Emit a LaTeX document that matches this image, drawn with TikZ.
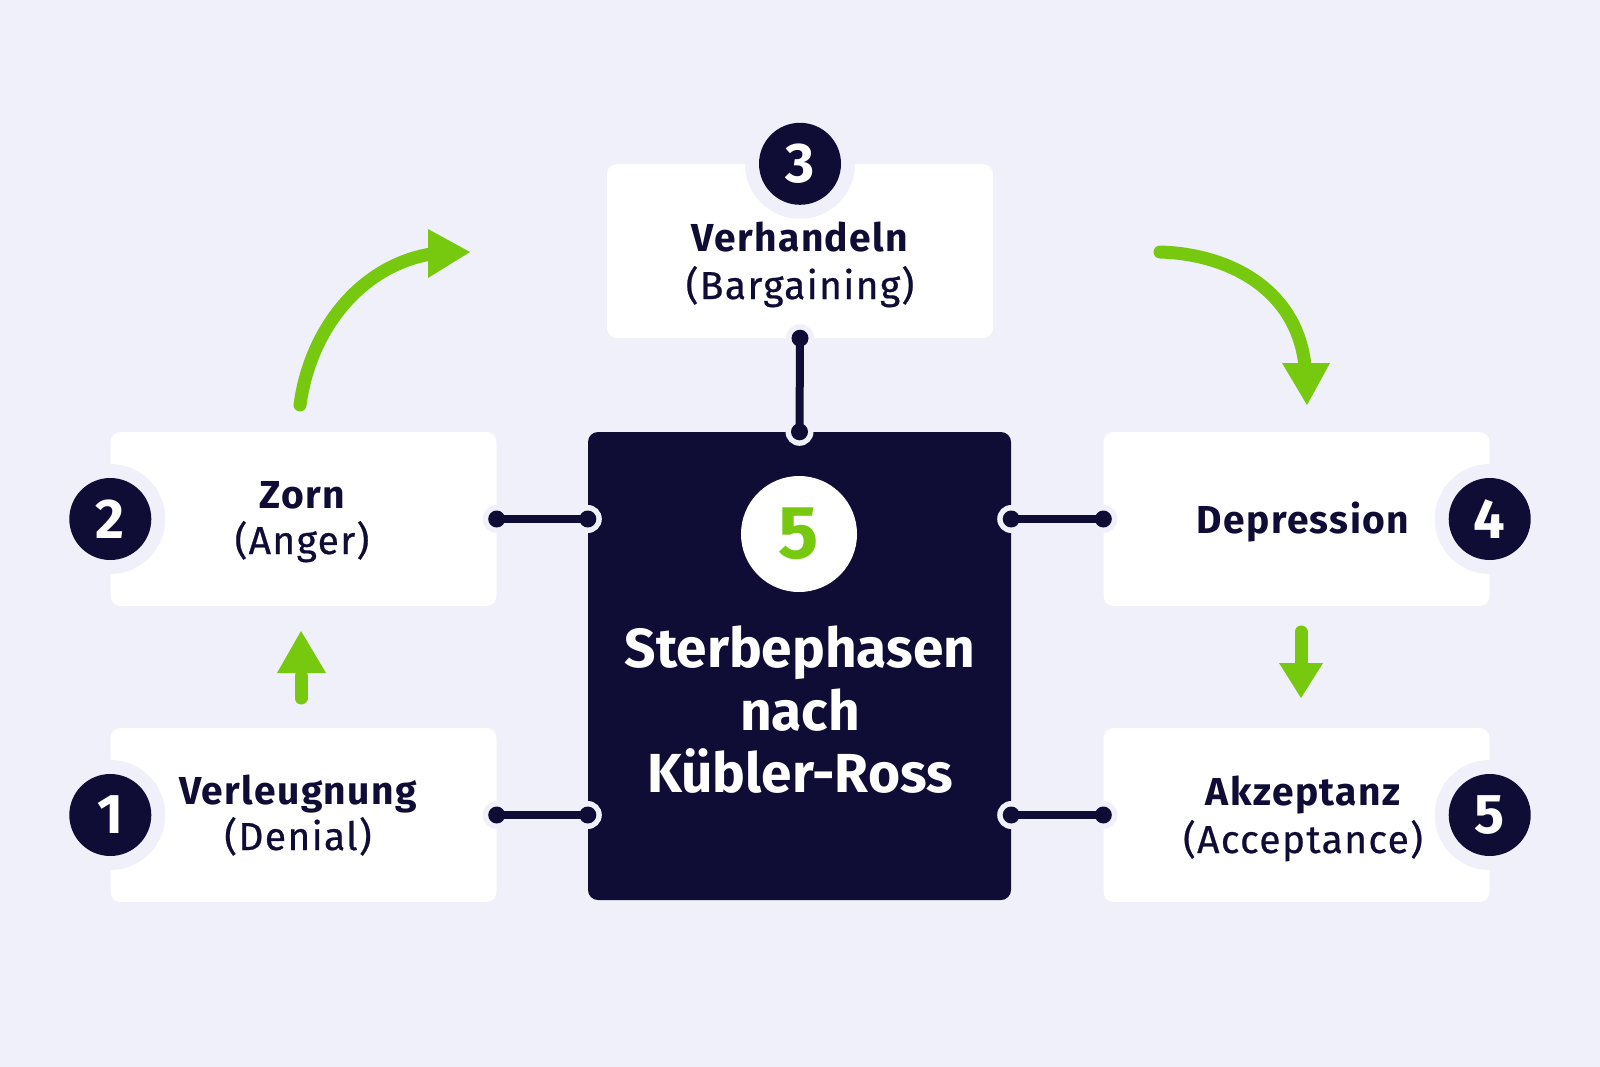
\documentclass[tikz,border=0pt]{standalone}
\usepackage{fontspec}
\setmainfont{Fira Sans}
\newfontfamily\lbl{Fira Sans}[LetterSpace=3.5]
\newfontfamily\lblmed{Fira Sans}[LetterSpace=3.5, FakeBold=0.6]
\usetikzlibrary{calc}
\definecolor{bgc}{RGB}{239,240,249}
\definecolor{navy}{RGB}{15,13,53}
\definecolor{lime}{RGB}{118,201,14}
\begin{document}
\begin{tikzpicture}[x=1pt,y=-1pt,
  box/.style={fill=white, rounded corners=10pt, minimum width=386pt, minimum height=174pt, inner sep=0pt},
  darkbox/.style={fill=navy, rounded corners=10pt, minimum width=423pt, minimum height=468pt, inner sep=0pt},
  numc/.style={circle, fill=navy, text=white, minimum size=82pt, inner sep=0pt, font=\fontsize{56}{56}\selectfont\bfseries},
  ttl/.style={text=navy, font=\fontsize{39}{47}\selectfont\lbl\bfseries, anchor=base, inner sep=0pt},
  sub/.style={text=navy, font=\fontsize{39}{47}\selectfont\lblmed, anchor=base, inner sep=0pt},
  bigttl/.style={text=white, font=\fontsize{55}{62}\selectfont\bfseries, anchor=base, inner sep=0pt},
  conn/.style={draw=navy, line width=8pt},
  garrow/.style={draw=lime, line width=13pt, line cap=round},
  ghead/.style={fill=lime},
]
\fill[bgc] (0,0) rectangle (1600,1067);
\useasboundingbox (0,0) rectangle (1600,1067);

% boxes
\node[box] (zorn) at (303.5,519) {};
\node[box] (verl) at (303.5,815) {};
\node[box] (verh) at (800,251) {};
\node[box] (dep) at (1296.5,519) {};
\node[box] (akz) at (1296.5,815) {};
\node[darkbox] (dark) at (799.5,666) {};

% halos of number circles
\foreach \a in {zorn.west, verl.west, verh.north, dep.east, akz.east}
  \fill[bgc] (\a) circle (55pt);

% number circles
\node[numc] (n1) at (verl.west) {1};
\node[numc] (n2) at (zorn.west) {2};
\node[numc] (n3) at (verh.north) {3};
\node[numc] (n4) at (dep.east) {4};
\node[numc] (n5) at (akz.east) {5};

% connectors
\coordinate (p1) at (zorn.east); \coordinate (q1) at (zorn.east -| dark.west);
\coordinate (p2) at (verl.east); \coordinate (q2) at (verl.east -| dark.west);
\coordinate (p3) at (verh.south); \coordinate (q3) at (dark.north);
\coordinate (p4) at (dep.west); \coordinate (q4) at (dep.west -| dark.east);
\coordinate (p5) at (akz.west); \coordinate (q5) at (akz.west -| dark.east);
\foreach \a in {p1,q1,p2,q2,p3,q3,p4,q4,p5,q5}
  \fill[bgc] (\a) circle (14pt);
\draw[conn] (p1) -- (q1);
\draw[conn] (p2) -- (q2);
\draw[conn] (p3) -- (q3);
\draw[conn] (p4) -- (q4);
\draw[conn] (p5) -- (q5);
\foreach \a in {p1,q1,p2,q2,p3,q3,p4,q4,p5,q5}
  \fill[navy] (\a) circle (8.5pt);

% texts
\node[ttl] (tzorn) at (302,508) {Zorn};
\node[sub] (szorn) at (302,554) {(Anger)};
\node[ttl] (tverl) at (298,804) {Verleugnung};
\node[sub] (sverl) at (298,850) {(Denial)};
\node[ttl] (tverh) at (800,252) {Verhandeln};
\node[sub] (sverh) at (800,299) {(Bargaining)};
\node[ttl] (tdep) at (1303,533) {Depression};
\node[ttl] (takz) at (1303,805) {Akzeptanz};
\node[sub] (sakz) at (1303,853) {(Acceptance)};

% center
\node[circle, fill=white, minimum size=116pt, inner sep=0pt, text=lime,
      font=\fontsize{75}{75}\selectfont\bfseries] (big) at (799,534) {5};
\node[bigttl] (c1) at (800,667) {Sterbephasen};
\node[bigttl] (c2) at (800,730) {nach};
\node[bigttl] (c3) at (800,792) {Kübler-Ross};

% green arrows
\coordinate (a1s) at (300,405); \coordinate (a1e) at (431,254);
\draw[garrow] (a1s) .. controls (310,330) and (360,266) .. (a1e);
\fill[ghead] (428,229) -- (470,252) -- (428,278) -- cycle;

\coordinate (a2s) at (1160,252); \coordinate (a2e) at (1305,366);
\draw[garrow] (a2s) .. controls (1230,254) and (1297,290) .. (a2e);
\fill[ghead] (1282,363) -- (1307,405) -- (1330,363) -- cycle;

\coordinate (a3s) at (301,698); \coordinate (a3e) at (301,676);
\draw[garrow] (a3s) -- (a3e);
\fill[ghead] (277,673) -- (301,631) -- (326,673) -- cycle;

\coordinate (a4s) at (1301,632); \coordinate (a4e) at (1301,666);
\draw[garrow] (a4s) -- (a4e);
\fill[ghead] (1279,663) -- (1301,698) -- (1323,663) -- cycle;
\end{tikzpicture}
\end{document}
